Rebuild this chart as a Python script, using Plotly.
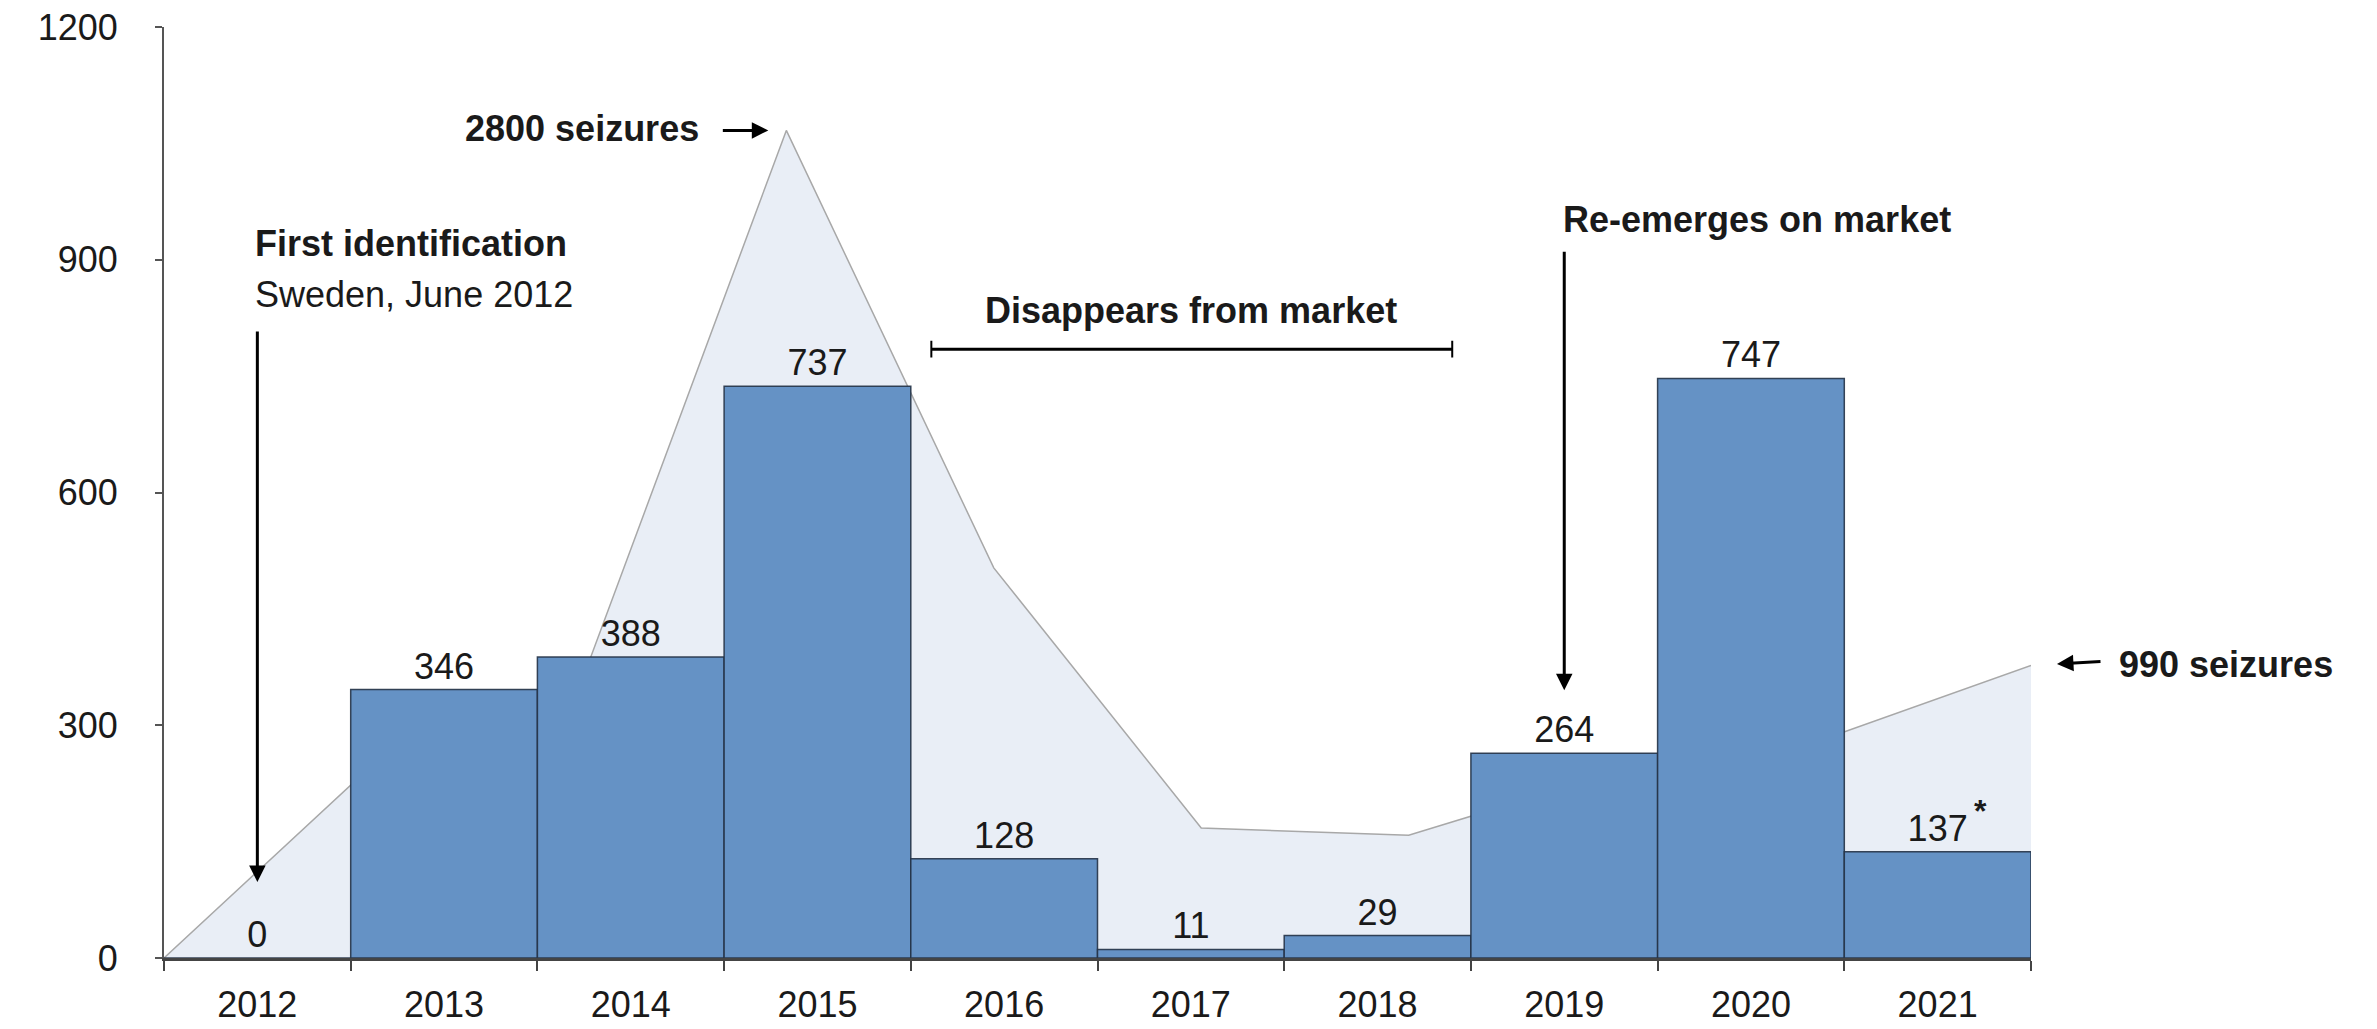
import plotly.graph_objects as go

# Yearly counts shown as bars
years = ["2012", "2013", "2014", "2015", "2016", "2017", "2018", "2019", "2020", "2021"]
bar_values = [0, 346, 388, 737, 128, 11, 29, 264, 747, 137]

# Seizures per year, drawn as the shaded background area (own scale)
seizure_years = [2012, 2013, 2014, 2015, 2016, 2017, 2018, 2019, 2020, 2021]
seizures = [0, 650, 910, 2800, 1320, 440, 415, 630, 740, 990]

y_ticks = [0, 300, 600, 900, 1200]

FONT = "Liberation Sans, Arial, Helvetica, sans-serif"
TXT = "#1a1a1a"
FS = 36

fig = go.Figure()

# Background area on the base axes so the bars sit above it
fig.add_trace(go.Scatter(
    x=seizure_years, y=seizures, mode="lines", fill="tozeroy",
    fillcolor="#e9eef6", line=dict(color="#a8a8a8", width=1.5),
    xaxis="x", yaxis="y", hoverinfo="skip", showlegend=False,
))

fig.add_trace(go.Bar(
    x=years, y=bar_values, width=1,
    marker=dict(color="#6592c5", line=dict(color="rgba(35,50,70,0.9)", width=1.5)),
    text=[str(v) for v in bar_values], textposition="outside",
    textfont=dict(size=FS, color=TXT, family=FONT),
    cliponaxis=False, xaxis="x2", yaxis="y2", showlegend=False,
))

annotations = [
    # peak label with arrow
    dict(x=2015, y=2800, xref="x", yref="y", text="<b>2800 seizures</b>",
         showarrow=False, xanchor="right", yanchor="middle", xshift=-85, yshift=2,
         font=dict(size=FS, color=TXT, family=FONT)),
    dict(x=2015, y=2800, xref="x", yref="y", text="", showarrow=True,
         ax=-65, ay=0, standoff=18, arrowhead=2, arrowsize=1.1, arrowwidth=3,
         arrowcolor="#000"),
    # latest-year label with arrow
    dict(x=2021, y=990, xref="x", yref="y", text="<b>990 seizures</b>",
         showarrow=False, xanchor="left", yanchor="middle", xshift=86, yshift=1,
         font=dict(size=FS, color=TXT, family=FONT)),
    dict(x=2021, y=990, xref="x", yref="y", text="", showarrow=True,
         ax=71, ay=-4, standoff=26, arrowhead=2, arrowsize=1.1, arrowwidth=3,
         arrowcolor="#000"),
    # first identification
    dict(x=0.0477, y=0.767, xref="paper", yref="paper", text="<b>First identification</b>",
         showarrow=False, xanchor="left", yanchor="middle",
         font=dict(size=FS, color=TXT, family=FONT)),
    dict(x=0.0477, y=0.713, xref="paper", yref="paper", text="Sweden, June 2012",
         showarrow=False, xanchor="left", yanchor="middle",
         font=dict(size=FS, color=TXT, family=FONT)),
    dict(x=0, y=98, xref="x2", yref="y2", text="", showarrow=True,
         ax=0, ay=-552, arrowhead=2, arrowsize=1.1, arrowwidth=3, arrowcolor="#000"),
    # disappearance period
    dict(x=0.550, y=0.695, xref="paper", yref="paper", text="<b>Disappears from market</b>",
         showarrow=False, xanchor="center", yanchor="middle",
         font=dict(size=FS, color=TXT, family=FONT)),
    # re-emergence
    dict(x=0.853, y=0.793, xref="paper", yref="paper", text="<b>Re-emerges on market</b>",
         showarrow=False, xanchor="center", yanchor="middle",
         font=dict(size=FS, color=TXT, family=FONT)),
    dict(x=7, y=345, xref="x2", yref="y2", text="", showarrow=True,
         ax=0, ay=-440, arrowhead=2, arrowsize=1.1, arrowwidth=3, arrowcolor="#000"),
    # footnote marker on the last bar
    dict(x=9, y=137, xref="x2", yref="y2", text="<b>*</b>", showarrow=False,
         xanchor="center", yanchor="middle", xshift=43, yshift=41,
         font=dict(size=32, color=TXT, family=FONT)),
]

# bracket marking the period off the market
bx0, bx1, by, cap = 0.411, 0.690, 0.654, 0.009
shapes = [
    dict(type="line", xref="paper", yref="paper", x0=bx0, x1=bx1, y0=by, y1=by,
         line=dict(color="#000", width=3)),
    dict(type="line", xref="paper", yref="paper", x0=bx0, x1=bx0, y0=by - cap, y1=by + cap,
         line=dict(color="#000", width=2)),
    dict(type="line", xref="paper", yref="paper", x0=bx1, x1=bx1, y0=by - cap, y1=by + cap,
         line=dict(color="#000", width=2)),
]

fig.update_layout(
    width=2377, height=1029,
    margin=dict(l=164, r=346, t=27, b=71, autoexpand=False),
    paper_bgcolor="white", plot_bgcolor="white",
    font=dict(family=FONT, size=FS, color=TXT),
    showlegend=False,
    xaxis=dict(visible=False, range=[2012, 2021], fixedrange=True, automargin=False),
    yaxis=dict(visible=False, range=[0, 3150], fixedrange=True, automargin=False),
    xaxis2=dict(
        overlaying="x", anchor="y2", type="category", range=[-0.5, 9.5],
        showline=True, linecolor="#444", linewidth=3,
        ticks="outside", tickson="boundaries", ticklen=10, tickwidth=2, tickcolor="#444",
        ticklabelstandoff=13, tickfont=dict(size=FS, color=TXT, family=FONT),
        showgrid=False, zeroline=False, automargin=False,
    ),
    yaxis2=dict(
        overlaying="y", anchor="x2", side="left", range=[0, 1200], tickvals=y_ticks,
        showline=True, linecolor="#555", linewidth=2,
        ticks="outside", ticklen=7, tickwidth=2, tickcolor="#555",
        ticklabelstandoff=30, tickfont=dict(size=FS, color=TXT, family=FONT),
        showgrid=False, zeroline=False, automargin=False,
    ),
    annotations=annotations,
    shapes=shapes,
)

fig.write_html("out.html")
